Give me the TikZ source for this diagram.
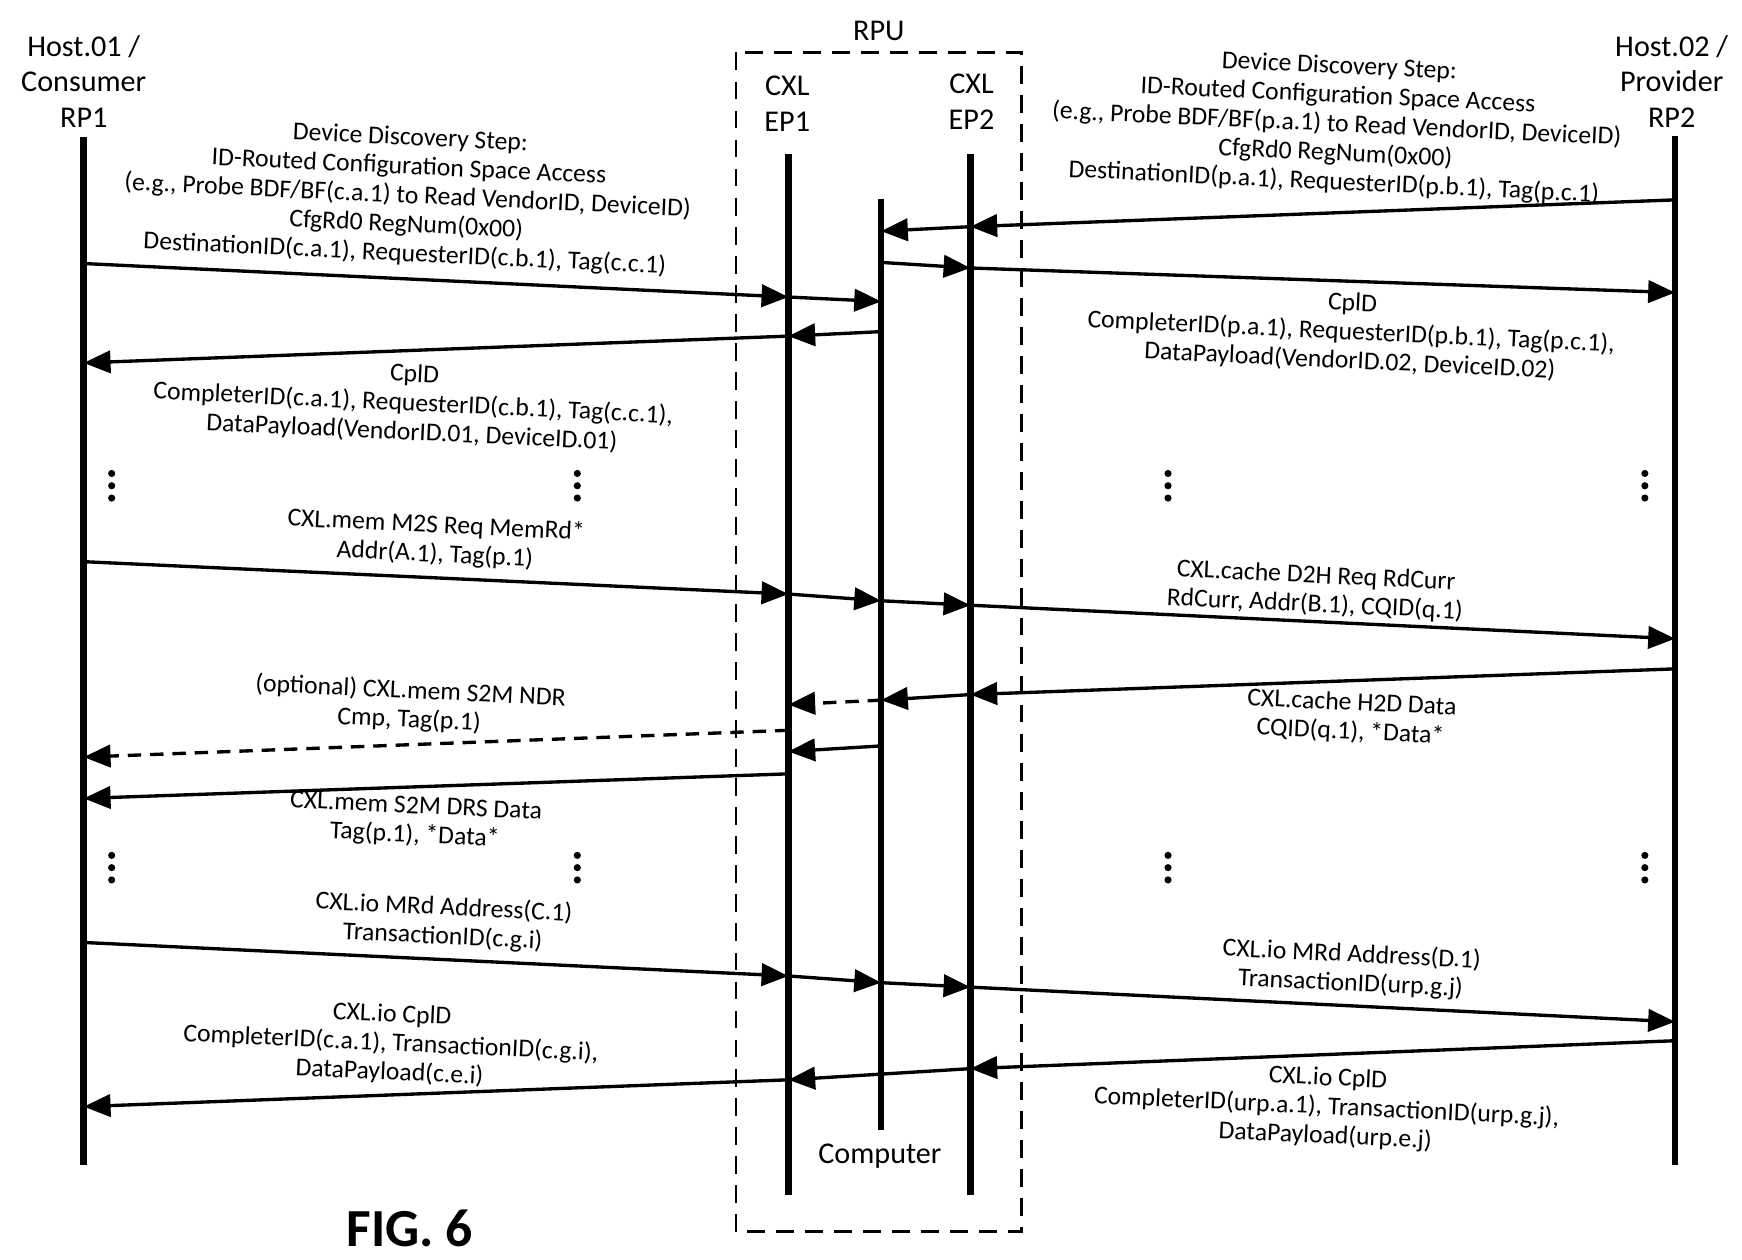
\documentclass[tikz,border=0pt]{standalone}
\usepackage{fontspec}
\setmainfont{Carlito}
\usetikzlibrary{arrows.meta}
\tikzset{
  life/.style={line width=3pt},
  msg/.style={line width=1.5pt,-{Triangle[length=12pt,width=10pt]}},
  msgd/.style={msg,dash pattern=on 6pt off 4pt},
  lbl/.style={align=center,font=\fontsize{11.5}{13}\selectfont,rotate=-2.7,inner sep=0pt},
  head/.style={align=center,font=\fontsize{13.5}{16}\selectfont,inner sep=0pt},
  vd/.style={font=\fontsize{24}{24}\selectfont\bfseries}
}
\begin{document}
\begin{tikzpicture}[x=0.5pt,y=-0.5pt]
\useasboundingbox (0,0) rectangle (1560,1128);
% lifelines
\coordinate (rp1t) at (75,123); \coordinate (rp1b) at (75,1043);
\coordinate (ep1t) at (706,138); \coordinate (ep1b) at (706,1070);
\coordinate (cpt) at (789,178); \coordinate (cpb) at (789,1012);
\coordinate (ep2t) at (869,138); \coordinate (ep2b) at (869,1070);
\coordinate (rp2t) at (1500,122); \coordinate (rp2b) at (1500,1043);
\draw[life] (rp1t) -- (rp1b);
\draw[life] (ep1t) -- (ep1b);
\draw[life] (cpt) -- (cpb);
\draw[life] (ep2t) -- (ep2b);
\draw[life] (rp2t) -- (rp2b);
\draw[line width=1.2pt,dash pattern=on 8pt off 5pt] (659,47) rectangle (915,1103);
% headers
\node[head] (rpu) at (787,28) {RPU};
\node[head] (h1) at (75,73) {Host.01 /\\Consumer\\RP1};
\node[head] (h2) at (1497,73) {Host.02 /\\Provider\\RP2};
\node[head] (e1) at (705,93) {CXL\\EP1};
\node[head] (e2) at (870,91) {CXL\\EP2};
\node[head] (comp) at (788,1035) {Computer};
\node[vd] (fig) at (367,1100) {FIG. 6};
% config read
\coordinate (a1) at (75,236); \coordinate (a2) at (706,266); \coordinate (a3) at (789,270);
\draw[msg] (a1) -- (a2);
\draw[msg] (a2) -- (a3);
\coordinate (b1) at (789,235); \coordinate (b2) at (869,240); \coordinate (b3) at (1500,262);
\draw[msg] (b1) -- (b2);
\draw[msg] (b2) -- (b3);
\coordinate (c1) at (1500,179); \coordinate (c2) at (869,203); \coordinate (c3) at (789,207);
\draw[msg] (c1) -- (c2);
\draw[msg] (c2) -- (c3);
\coordinate (d1) at (789,297); \coordinate (d2) at (706,301); \coordinate (d3) at (75,325);
\draw[msg] (d1) -- (d2);
\draw[msg] (d2) -- (d3);
% mem read
\coordinate (f1) at (75,503); \coordinate (f2) at (706,532); \coordinate (f3) at (789,538);
\coordinate (f4) at (869,542); \coordinate (f5) at (1500,572);
\draw[msg] (f1) -- (f2);
\draw[msg] (f2) -- (f3);
\draw[msg] (f3) -- (f4);
\draw[msg] (f4) -- (f5);
\coordinate (g1) at (1500,599); \coordinate (g2) at (869,622); \coordinate (g3) at (789,627);
\coordinate (g4) at (706,631);
\draw[msg] (g1) -- (g2);
\draw[msg] (g2) -- (g3);
\draw[msgd] (g3) -- (g4);
\coordinate (k1) at (706,654); \coordinate (k2) at (75,678);
\draw[msgd] (k1) -- (k2);
\coordinate (m1) at (789,668); \coordinate (m2) at (706,673);
\draw[msg] (m1) -- (m2);
\coordinate (n1) at (706,693); \coordinate (n2) at (75,715);
\draw[msg] (n1) -- (n2);
% io read
\coordinate (p1) at (75,844); \coordinate (p2) at (706,874); \coordinate (p3) at (789,880);
\coordinate (p4) at (869,884); \coordinate (p5) at (1500,915);
\draw[msg] (p1) -- (p2);
\draw[msg] (p2) -- (p3);
\draw[msg] (p3) -- (p4);
\draw[msg] (p4) -- (p5);
\coordinate (q1) at (1500,932); \coordinate (q2) at (869,957); \coordinate (q3) at (706,967);
\coordinate (q4) at (75,991);
\draw[msg] (q1) -- (q2);
\draw[msg] (q2) -- (q3);
\draw[msg] (q3) -- (q4);
% dots
\foreach \x in {100,517,1046,1473} {
  \foreach \y in {435,777} {
    \foreach \d in {-11,0,11} \fill (\x,\y+\d) circle (1.6pt);
  }
}
% labels
\node[lbl] (la) at (365,176) {Device Discovery Step:\\ID-Routed Configuration Space Access\\(e.g., Probe BDF/BF(c.a.1) to Read VendorID, DeviceID)\\CfgRd0 RegNum(0x00)\\DestinationID(c.a.1), RequesterID(c.b.1), Tag(c.c.1)};
\node[lbl] (lb) at (1197,112) {Device Discovery Step:\\ID-Routed Configuration Space Access\\(e.g., Probe BDF/BF(p.a.1) to Read VendorID, DeviceID)\\CfgRd0 RegNum(0x00)\\DestinationID(p.a.1), RequesterID(p.b.1), Tag(p.c.1)};
\node[lbl] (lc) at (1210,298) {CplD\\CompleterID(p.a.1), RequesterID(p.b.1), Tag(p.c.1),\\DataPayload(VendorID.02, DeviceID.02)};
\node[lbl] (ld) at (370,362) {CplD\\CompleterID(c.a.1), RequesterID(c.b.1), Tag(c.c.1),\\DataPayload(VendorID.01, DeviceID.01)};
\node[lbl] (le) at (390,484) {CXL.mem M2S Req MemRd*\\Addr(A.1), Tag(p.1)};
\node[lbl] (lf) at (1178,529) {CXL.cache D2H Req RdCurr\\RdCurr, Addr(B.1), CQID(q.1)};
\node[lbl] (lg) at (367,632) {(optional) CXL.mem S2M NDR\\Cmp, Tag(p.1)};
\node[lbl] (lh) at (1210,643) {CXL.cache H2D Data\\CQID(q.1), *Data*};
\node[lbl] (li) at (372,736) {CXL.mem S2M DRS Data\\Tag(p.1), *Data*};
\node[lbl] (lj) at (397,826) {CXL.io MRd Address(C.1)\\TransactionID(c.g.i)};
\node[lbl] (lk) at (1210,868) {CXL.io MRd Address(D.1)\\TransactionID(urp.g.j)};
\node[lbl] (ll) at (350,935) {CXL.io CplD\\CompleterID(c.a.1), TransactionID(c.g.i),\\DataPayload(c.e.i)};
\node[lbl] (lm) at (1188,992) {CXL.io CplD\\CompleterID(urp.a.1), TransactionID(urp.g.j),\\DataPayload(urp.e.j)};
\end{tikzpicture}
\end{document}
